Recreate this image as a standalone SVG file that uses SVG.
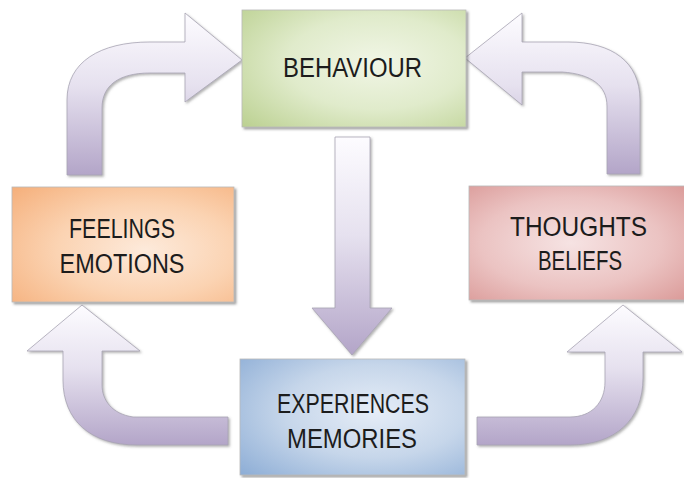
<svg xmlns="http://www.w3.org/2000/svg" width="684" height="478" viewBox="0 0 684 478">
  <style>
    .lbl { font-family: "Liberation Sans", Arial, sans-serif; font-size: 27px; fill: #1c1c1c; text-anchor: middle; }
    .box { stroke: #b9b9b9; stroke-width: 0.8; filter: url(#shadow); }
    .arrow { fill: url(#arrowGrad); stroke: #a7a3b3; stroke-width: 0.8; filter: url(#ashadow); }
  </style>
  <defs>
    <filter id="shadow" x="-10%" y="-10%" width="130%" height="130%">
      <feDropShadow dx="2" dy="2" stdDeviation="1.2" flood-color="#555" flood-opacity="0.55"/>
    </filter>
    <filter id="ashadow" x="-10%" y="-10%" width="130%" height="130%">
      <feDropShadow dx="1.5" dy="1.5" stdDeviation="1" flood-color="#666" flood-opacity="0.5"/>
    </filter>
    <linearGradient id="arrowGrad" x1="0" y1="0" x2="0" y2="1">
      <stop offset="0" stop-color="#fdfcff"/>
      <stop offset="0.45" stop-color="#e6e1ef"/>
      <stop offset="1" stop-color="#b3a5c8"/>
    </linearGradient>
    <radialGradient id="gGreen" cx="0.6" cy="0.45" r="0.8">
      <stop offset="0" stop-color="#f1f6e6"/>
      <stop offset="0.5" stop-color="#e0ebcb"/>
      <stop offset="1" stop-color="#bcd192"/>
    </radialGradient>
    <radialGradient id="gOrange" cx="0.6" cy="0.55" r="0.8">
      <stop offset="0" stop-color="#fdeadb"/>
      <stop offset="0.5" stop-color="#fbd3b2"/>
      <stop offset="1" stop-color="#f5b07c"/>
    </radialGradient>
    <radialGradient id="gRed" cx="0.45" cy="0.5" r="0.8">
      <stop offset="0" stop-color="#f6e3e3"/>
      <stop offset="0.5" stop-color="#ebc3c2"/>
      <stop offset="1" stop-color="#d68f8d"/>
    </radialGradient>
    <radialGradient id="gBlue" cx="0.6" cy="0.45" r="0.8">
      <stop offset="0" stop-color="#e6edf7"/>
      <stop offset="0.5" stop-color="#c6d6ea"/>
      <stop offset="1" stop-color="#8eaed6"/>
    </radialGradient>
  </defs>
  <rect width="684" height="478" fill="#ffffff"/>

  <g id="connectors">
    <path class="arrow" d="M67,175 L67,100 C67,62 100,42 150,42 L185,42 L185,13 L242,60 L185,102 L185,73 L150,73 C118,73 102,86 102,108 L102,175 Z"/>
    <path class="arrow" d="M640,174 L640,100 C640,62 612,42 568,42 L522,42 L522,13 L465,58 L522,105 L522,72 L562,72 C592,74 607,86 607,106 L607,174 Z"/>
    <path class="arrow" d="M335,137 L370,137 L370,308 L392,308 L352,355 L312,308 L335,308 Z"/>
    <path class="arrow" d="M63,351 L63,380 C63,420 90,445 137,445 L228,445 L228,417 L133,417 C112,414 102,400 102,385 L102,351 L140,351 L82,305 L27,351 Z"/>
    <path class="arrow" d="M643,352 L643,378 C643,420 615,445 570,445 L477,445 L477,417 L570,417 C592,417 605,402 605,382 L605,352 L567,352 L623,305 L682,352 Z"/>
  </g>

  <g id="behaviour">
    <rect class="box" x="242" y="10" width="224" height="117" fill="url(#gGreen)"/>
    <text class="lbl" x="352.5" y="77" textLength="139" lengthAdjust="spacingAndGlyphs">BEHAVIOUR</text>
  </g>

  <g id="feelings">
    <rect class="box" x="12" y="187" width="222" height="115" fill="url(#gOrange)"/>
    <text class="lbl" x="122" y="238" textLength="106" lengthAdjust="spacingAndGlyphs">FEELINGS</text>
    <text class="lbl" x="122" y="273" textLength="125" lengthAdjust="spacingAndGlyphs">EMOTIONS</text>
  </g>

  <g id="thoughts">
    <rect class="box" x="469" y="186" width="226" height="114" fill="url(#gRed)"/>
    <text class="lbl" x="578.5" y="236" textLength="137" lengthAdjust="spacingAndGlyphs">THOUGHTS</text>
    <text class="lbl" x="580" y="270" textLength="84" lengthAdjust="spacingAndGlyphs">BELIEFS</text>
  </g>

  <g id="experiences">
    <rect class="box" x="240" y="359" width="225" height="116" fill="url(#gBlue)"/>
    <text class="lbl" x="353" y="413" textLength="152" lengthAdjust="spacingAndGlyphs">EXPERIENCES</text>
    <text class="lbl" x="352" y="448" textLength="130" lengthAdjust="spacingAndGlyphs">MEMORIES</text>
  </g>
</svg>
